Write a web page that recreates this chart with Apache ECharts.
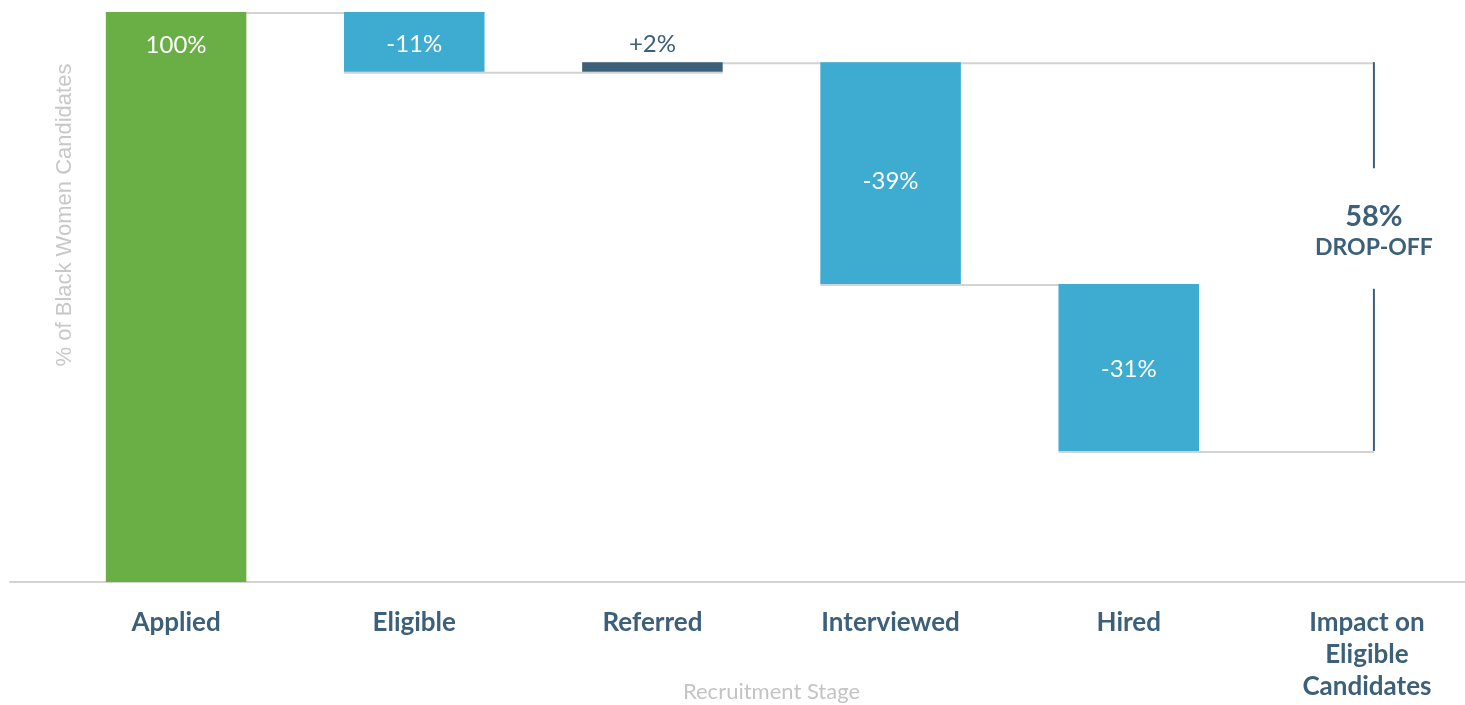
<!DOCTYPE html>
<html>
<head>
<meta charset="utf-8">
<script src="https://cdn.jsdelivr.net/npm/echarts@6/dist/echarts.min.js"></script>
<style>
  html, body { margin: 0; padding: 0; background: #fff; }
  #main { width: 1465px; height: 705px; }
</style>
</head>
<body>
<div id="main"></div>
<script>
// recruitment stages (last one is the summary column)
const stages = ['Applied', 'Eligible', 'Referred', 'Interviewed', 'Hired', 'Impact on\nEligible\nCandidates']
// running level (% of candidates) after each stage
const levels = [100, 89.5, 91.2, 52.3, 23.0]
const changeLabels = ['100%', '-11%', '+2%', '-39%', '-31%']
const dropOffValue = '58%'
const dropOffText = 'DROP-OFF'
// the summary bracket spans from the level after this stage to the level after that one
const impactTop = 2
const impactBottom = 4

const green = '#6aaf45'
const blue = '#3eabd0'
const dark = '#3c607a'
const grey = '#d3d3d3'
const impactIndex = stages.length - 1

// stacked waterfall: invisible base + visible change
const baseData = []
const deltaData = []
levels.forEach((v, i) => {
  if (i === 0) {
    baseData.push(0)
    deltaData.push({
      value: v,
      itemStyle: { color: green },
      label: { position: 'insideTop', distance: 21, color: '#fff' }
    })
    return
  }
  const prev = levels[i - 1]
  const up = v > prev
  baseData.push(Math.min(prev, v))
  deltaData.push({
    value: Math.abs(v - prev),
    itemStyle: { color: up ? dark : blue },
    label: up
      ? { position: 'top', distance: 6, color: dark }
      : { position: 'inside', color: '#fff', offset: [0, i === 3 ? 8 : 2] }
  })
})

// connector lines: [from stage, to stage, level]
const connectors = levels.map((v, i) => {
  const end = (i === impactTop || i === impactBottom) ? impactIndex : i + 1
  return [i, end, v]
})

const chart = echarts.init(document.getElementById('main'))

const option = {
  animation: false,
  textStyle: { fontFamily: 'Lato' },
  grid: [
    { left: 57, right: -21, top: 12, bottom: 123, outerBoundsMode: 'none', containLabel: false },
    { left: 10, right: 0, top: 12, bottom: 123, outerBoundsMode: 'none', containLabel: false }
  ],
  xAxis: [
    {
      type: 'category',
      gridIndex: 0,
      data: stages,
      axisLine: { show: false },
      axisTick: { show: false },
      axisLabel: {
        margin: 25,
        verticalAlign: 'top',
        color: dark,
        fontSize: 26,
        fontWeight: 'bold',
        lineHeight: 32,
        interval: 0,
        fontFamily: 'Lato'
      },
      name: 'Recruitment Stage',
      nameLocation: 'middle',
      nameGap: 99,
      nameMoveOverlap: false,
      nameTextStyle: { color: '#c4c4c4', fontSize: 22, fontFamily: 'Lato', verticalAlign: 'top' }
    },
    {
      type: 'category',
      gridIndex: 1,
      data: [''],
      axisLine: { show: true, lineStyle: { color: grey, width: 2 } },
      axisTick: { show: false },
      axisLabel: { show: false }
    }
  ],
  yAxis: [
    { type: 'value', gridIndex: 0, min: 0, max: 100, show: false },
    { type: 'value', gridIndex: 1, min: 0, max: 100, show: false }
  ],
  graphic: [
    {
      type: 'text',
      x: 65,
      y: 215,
      rotation: Math.PI / 2,
      style: {
        text: '% of Black Women Candidates',
        fill: '#c8c8c8',
        fontSize: 22,
        fontFamily: 'Liberation Sans',
        textAlign: 'center',
        textVerticalAlign: 'middle'
      }
    }
  ],
  series: [
    {
      type: 'custom',
      z: 1,
      silent: true,
      data: connectors,
      renderItem: (params, api) => {
        const band = api.size([1, 0])[0]
        const half = band * 0.59 / 2
        const from = api.value(0)
        const to = api.value(1)
        const p1 = api.coord([from, api.value(2)])
        const p2 = api.coord([to, api.value(2)])
        const x2 = to === impactIndex ? p2[0] + 7 : p2[0] + half
        return {
          type: 'line',
          shape: { x1: p1[0] - half, y1: p1[1] + 1, x2: x2, y2: p2[1] + 1 },
          style: { stroke: grey, lineWidth: 2 }
        }
      }
    },
    {
      type: 'bar',
      stack: 'fall',
      z: 2,
      silent: true,
      barWidth: '59%',
      itemStyle: { color: 'transparent' },
      data: baseData
    },
    {
      type: 'bar',
      stack: 'fall',
      z: 2,
      barWidth: '59%',
      label: {
        show: true,
        fontSize: 24,
        fontFamily: 'Lato',
        formatter: p => changeLabels[p.dataIndex]
      },
      data: deltaData
    },
    {
      type: 'custom',
      z: 3,
      silent: true,
      data: [[impactIndex, levels[impactTop], levels[impactBottom]]],
      renderItem: (params, api) => {
        const top = api.coord([api.value(0), api.value(1)])
        const bot = api.coord([api.value(0), api.value(2)])
        const x = top[0] + 7
        const span = bot[1] - top[1]
        const gapTop = top[1] + span * 0.273
        const gapBot = top[1] + span * 0.583
        const mid = top[1] + span * 0.435
        return {
          type: 'group',
          children: [
            { type: 'line', shape: { x1: x, y1: top[1], x2: x, y2: gapTop }, style: { stroke: dark, lineWidth: 2 } },
            { type: 'line', shape: { x1: x, y1: gapBot, x2: x, y2: bot[1] }, style: { stroke: dark, lineWidth: 2 } },
            {
              type: 'text',
              x: x,
              y: mid,
              style: {
                text: '{v|' + dropOffValue + '}\n{t|' + dropOffText + '}',
                fill: dark,
                textAlign: 'center',
                textVerticalAlign: 'middle',
                rich: {
                  v: { fontSize: 29, fontWeight: 'bold', fill: dark, fontFamily: 'Lato', lineHeight: 32, align: 'center' },
                  t: { fontSize: 23, fontWeight: 'bold', fill: dark, fontFamily: 'Lato', lineHeight: 30, align: 'center' }
                }
              }
            }
          ]
        }
      }
    }
  ]
}

chart.setOption(option)
window.addEventListener('resize', () => chart.resize())
</script>
</body>
</html>
